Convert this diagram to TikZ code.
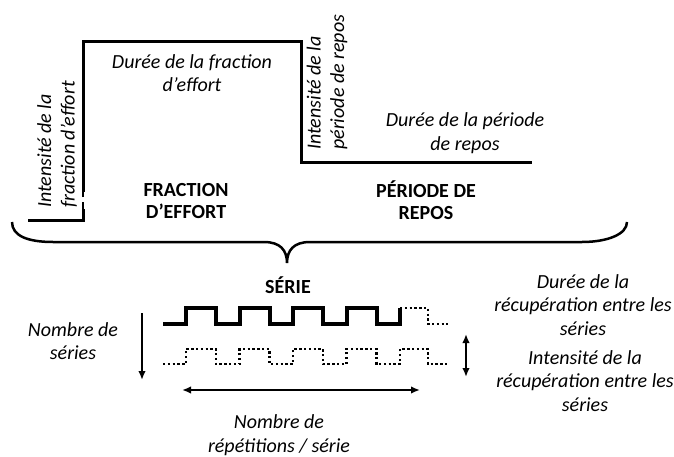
\documentclass[tikz,border=0pt]{standalone}
\usepackage{fontspec}
\setmainfont{Carlito}
\usetikzlibrary{arrows.meta}

\tikzset{
  legende/.style={font=\fontsize{20}{23.5}\selectfont\itshape, align=center, inner sep=0pt},
  titre/.style={font=\fontsize{20}{22.5}\selectfont\bfseries, align=center, inner sep=0pt},
  profil/.style={line width=3pt},
  vague/.style={line width=4pt},
  pointille/.style={line width=2.4pt, dash pattern=on 2.4pt off 2.4pt},
  fleche/.style={line width=2pt, -{Latex[length=9pt,width=7.5pt]}},
  doublefleche/.style={line width=2pt, {Latex[length=9pt,width=7.5pt]}-{Latex[length=9pt,width=7.5pt]}}
}

\begin{document}
\begin{tikzpicture}[x=1pt,y=-1pt]
  \useasboundingbox (0,0) rectangle (674,457);
  % profil fraction d'effort / periode de repos
  \draw[profil] (28,220) -- (83,220) -- (83,209);
  \draw[line width=2.5pt, dash pattern=on 7pt off 5pt] (83,209) -- (83,192);
  \draw[profil] (83,192) -- (83,42) -- (301,42) -- (301,163) -- (532,163);
  \node[legende, rotate=90, anchor=west, align=left] (intEffort) at (57,208) {Intensité de la\\fraction d'effort};
  \node[legende] (dureeEffort) at (192,73) {Durée de la fraction\\d'effort};
  \node[legende, rotate=90, anchor=west, align=left] (intRepos) at (327,150) {Intensité de la\\période de repos};
  \node[legende] (dureeRepos) at (465,133) {Durée de la période\\de repos};
  \node[titre] (fraction) at (186,201) {FRACTION\\D'EFFORT};
  \node[titre] (periode) at (426,200) {PÉRIODE DE\\REPOS};
  % accolade
  \draw[line width=2.5pt] (12,222) .. controls (12,236) and (28,242) .. (53,242) -- (264,242)
    .. controls (280,242) and (287,250) .. (287,263)
    .. controls (287,250) and (294,242) .. (310,242) -- (582,242)
    .. controls (608,242) and (627,234) .. (627,222);
  \node[titre] (serie) at (288,285) {SÉRIE};
  % series
  \draw[vague] (163,324) foreach \k in {0,...,3} { -- (186+53.5*\k,324) -- ++(0,-16) -- ++(30,0) -- ++(0,16) } -- (400,324) -- (400,308);
  \draw[pointille] (400,308) -- (428,308) -- (428,324) -- (448,324);
  \draw[pointille] (163,364) foreach \k in {0,...,3} { -- (186+53.5*\k,364) -- ++(0,-15) -- ++(30,0) -- ++(0,15) } -- (400,364) -- (400,349) -- (428,349) -- (428,364) -- (448,364);
  % fleches
  \coordinate (seriesHaut) at (142,313);
  \coordinate (seriesBas) at (142,380);
  \draw[fleche] (seriesHaut) -- (seriesBas);
  \coordinate (repGauche) at (182,390);
  \coordinate (repDroite) at (420,390);
  \draw[doublefleche] (repGauche) -- (repDroite);
  \coordinate (recupHaut) at (466,334);
  \coordinate (recupBas) at (466,377);
  \draw[doublefleche] (recupHaut) -- (recupBas);
  \node[legende] (nbSeries) at (73,341) {Nombre de\\séries};
  \node[legende] (nbRep) at (279,435) {Nombre de\\répétitions / série};
  \node[legende] (dureeRecup) at (583,305) {Durée de la\\récupération entre les\\séries};
  \node[legende] (intRecup) at (585,381) {Intensité de la\\récupération entre les\\séries};
\end{tikzpicture}
\end{document}
